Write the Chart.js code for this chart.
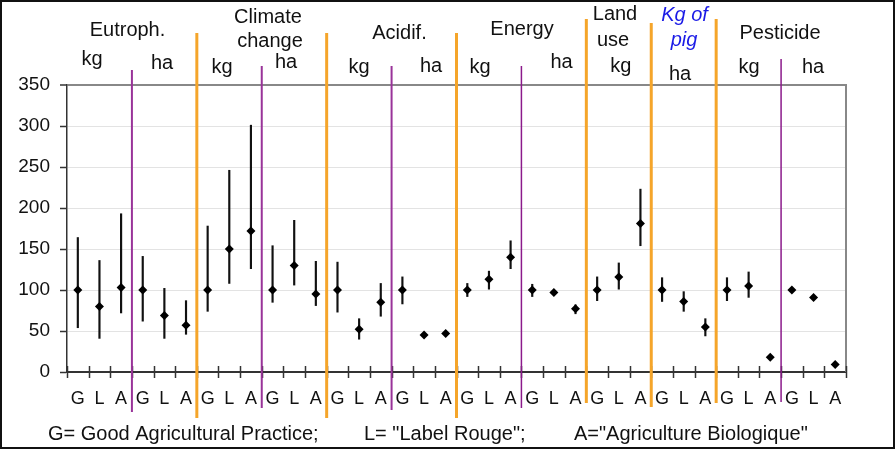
<!DOCTYPE html>
<html><head><meta charset="utf-8">
<script src="https://cdn.jsdelivr.net/npm/chart.js@4.4.1/dist/chart.umd.min.js"></script>
<style>html,body{margin:0;padding:0;background:#fff}#wrap{width:896px;height:450px}</style>
</head><body><div id="wrap"><canvas id="c" width="896" height="450"></canvas></div>
<script>
// ---- data ----
const categories = ['G','L','A','G','L','A','G','L','A','G','L','A','G','L','A','G','L','A',
                    'G','L','A','G','L','A','G','L','A','G','L','A','G','L','A','G','L','A'];
const means = [100,80,103, 100,69,57, 100,150,172, 100,130,95,
               100,52,85, 100,45,47, 100,113,140, 100,97,77,
               100,116,181, 100,86,55, 100,105,18, 100,91,9];
const lows  = [54,41,72, 62,41,46, 74,108,126, 85,106,81,
               73,40,68, 83,null,null, 92,101,126, 92,null,71,
               87,101,154, 86,74,44, 87,91,null, null,null,null];
const highs = [164,136,193, 141,102,87, 178,246,301, 154,185,135,
               134,65,108, 116,null,null, 108,123,160, 107,null,82,
               116,133,223, 115,98,65, 115,122,null, null,null,null];
const yTicks = [0,50,100,150,200,250,300,350];
const groupNames = ['Eutroph.','Climate change','Acidif.','Energy','Land use','Kg of pig','Pesticide'];
const unitNames = ['kg','ha'];
const legendText = ['G= Good Agricultural Practice;','L= "Label Rouge";','A="Agriculture Biologique"'];

// ---- layout / styling (not data) ----
const seps = [ // boundary index, colour, width, top, bottom
  {b:3,  c:'#993399', w:2, t:70, bt:412},
  {b:6,  c:'#F5A52A', w:3, t:33, bt:418},
  {b:9,  c:'#993399', w:2, t:66, bt:408},
  {b:12, c:'#F5A52A', w:3, t:33, bt:418},
  {b:15, c:'#993399', w:2, t:66, bt:410},
  {b:18, c:'#F5A52A', w:3, t:33, bt:418},
  {b:21, c:'#8B1A8B', w:1.5, t:66, bt:408},
  {b:24, c:'#F5A52A', w:3, t:19, bt:403},
  {b:27, c:'#F5A52A', w:3, t:23, bt:407},
  {b:30, c:'#F5A52A', w:3, t:19, bt:403},
  {b:33, c:'#8B1A8B', w:1.5, t:59, bt:402}
];
const headerTexts = [
  {s:groupNames[0], x:127.5, y:36},
  {s:'Climate', x:268, y:23}, {s:'change', x:270, y:47},
  {s:groupNames[2], x:399.5, y:39},
  {s:groupNames[3], x:522, y:35},
  {s:'Land', x:615, y:20}, {s:'use', x:613, y:46},
  {s:groupNames[6], x:780, y:39},
  {s:unitNames[0], x:92, y:65}, {s:unitNames[1], x:162, y:69},
  {s:unitNames[0], x:222, y:73}, {s:unitNames[1], x:286, y:68},
  {s:unitNames[0], x:359, y:73}, {s:unitNames[1], x:431, y:72},
  {s:unitNames[0], x:480, y:73}, {s:unitNames[1], x:561.5, y:68},
  {s:unitNames[0], x:620.7, y:72}, {s:unitNames[1], x:680, y:80},
  {s:unitNames[0], x:749, y:73}, {s:unitNames[1], x:813, y:72.5}
];
const blueTexts = [{s:'Kg of', x:684.5, y:21}, {s:'pig', x:684, y:46}];
const legendX = [48, 364, 574];

const errData = lows.map((l,i)=> (l==null||highs[i]==null) ? null : [l, highs[i]]);

const deco = {
  id:'deco',
  beforeDraw(chart){
    const ctx = chart.ctx;
    ctx.save(); ctx.fillStyle='#fff'; ctx.fillRect(0,0,chart.width,chart.height); ctx.restore();
  },
  afterDraw(chart){
    const ctx = chart.ctx, x = chart.scales.x, a = chart.chartArea;
    const cw = (x.right - x.left)/categories.length;
    const bx = b => x.left + b*cw;
    ctx.save();
    // right frame
    ctx.strokeStyle='#888'; ctx.lineWidth=2;
    ctx.beginPath(); ctx.moveTo(a.right, a.top-1); ctx.lineTo(a.right, a.bottom); ctx.stroke();
    // x tick marks crossing the axis
    ctx.strokeStyle='#333'; ctx.lineWidth=1.5;
    for(let b=0;b<=categories.length;b++){
      const px = Math.round(bx(b))+0.5;
      ctx.beginPath(); ctx.moveTo(px, a.bottom-6); ctx.lineTo(px, a.bottom+6); ctx.stroke();
    }
    // separators
    seps.forEach(s=>{
      ctx.strokeStyle=s.c; ctx.lineWidth=s.w;
      const px = bx(s.b);
      ctx.beginPath(); ctx.moveTo(px, s.t); ctx.lineTo(px, s.bt); ctx.stroke();
    });
    // header texts
    ctx.fillStyle='#111'; ctx.textAlign='center'; ctx.textBaseline='alphabetic';
    ctx.font='20px "Liberation Sans", Arial, sans-serif';
    headerTexts.forEach(t=>ctx.fillText(t.s, t.x, t.y));
    ctx.fillStyle='#1a1ae6'; ctx.font='italic 20px "Liberation Sans", Arial, sans-serif';
    blueTexts.forEach(t=>ctx.fillText(t.s, t.x, t.y));
    // legend line
    ctx.fillStyle='#111'; ctx.textAlign='left'; ctx.font='20px "Liberation Sans", Arial, sans-serif';
    legendText.forEach((s,i)=>ctx.fillText(s, legendX[i], 440));
    // outer border
    ctx.strokeStyle='#111'; ctx.lineWidth=2;
    ctx.strokeRect(1,1,chart.width-3,chart.height-3);
    ctx.restore();
  }
};

new Chart(document.getElementById('c'), {
  type:'bar',
  data:{
    labels: categories,
    datasets:[
      {type:'line', data: means, showLine:false, pointStyle:'rectRot', pointRadius:4.5,
       pointBackgroundColor:'#000', pointBorderColor:'#000', pointBorderWidth:0, order:0},
      {type:'bar', data: errData, backgroundColor:'#111', barThickness:1.5, borderWidth:0, order:1}
    ]
  },
  options:{
    responsive:false, animation:false, devicePixelRatio:1,
    layout:{padding:{top:85, right:50, left:0, bottom:0}},
    plugins:{legend:{display:false}, tooltip:{enabled:false}},
    scales:{
      x:{
        grid:{display:false, drawTicks:false},
        border:{display:true, color:'#333', width:2},
        ticks:{autoSkip:false, maxRotation:0, padding:16, color:'#111',
               font:{size:18, family:'"Liberation Sans", Arial, sans-serif'}},
        afterFit(s){ s.height = 78; }
      },
      y:{
        min:0, max:350,
        afterBuildTicks(s){ s.ticks = yTicks.map(v=>({value:v})); },
        grid:{
          color: c => c.tick.value===350 ? '#888' : (c.tick.value===0 ? 'rgba(0,0,0,0)' : '#e3e3e3'),
          lineWidth: c => c.tick.value===350 ? 2 : 1,
          tickColor:'#333', tickLength:7, tickWidth:1.5, drawTicks:true
        },
        border:{display:true, color:'#333', width:1.5},
        ticks:{padding:10, color:'#111', font:{size:19, family:'"Liberation Sans", Arial, sans-serif'}},
        afterFit(s){ s.width = 67; }
      }
    }
  },
  plugins:[deco]
});
</script></body></html>
